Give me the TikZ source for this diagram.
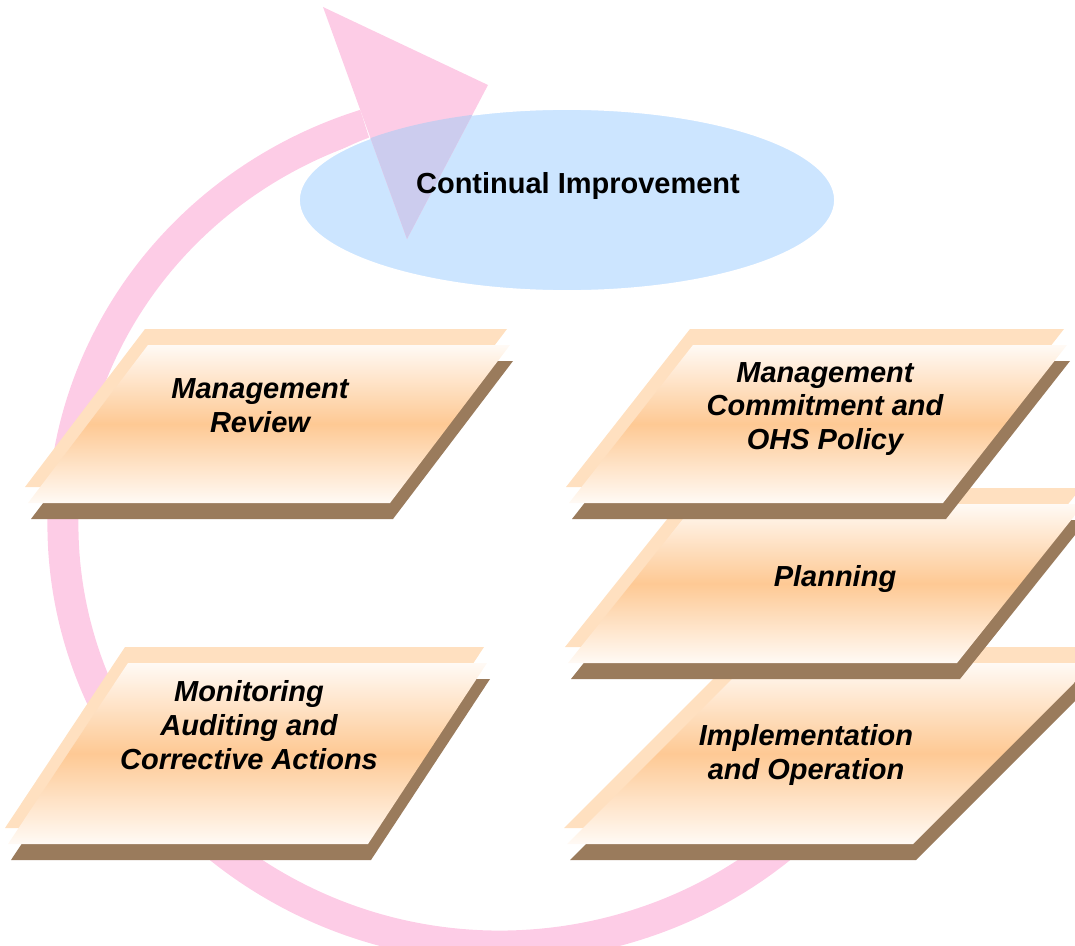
\documentclass[tikz,border=0pt]{standalone}
\usepackage{fontspec}
\setmainfont{Liberation Sans}
\definecolor{ringpink}{RGB}{253,204,230}
\definecolor{ciblue}{RGB}{204,229,255}
\definecolor{cimix}{RGB}{204,204,238}
\definecolor{slabpeach}{RGB}{255,224,192}
\definecolor{slabbrown}{RGB}{154,123,92}
\definecolor{slaborange}{RGB}{254,201,148}
\definecolor{slabwhite}{RGB}{255,250,245}

\begin{document}
\begin{tikzpicture}[x=0.02cm, y=-0.02cm,
  ring/.style={draw=ringpink, line width=0.62cm},
  backlayer/.style={fill=slabpeach, shift={(-3,-16)}},
  shadowlayer/.style={fill=slabbrown, shift={(3,16)}},
  frontlayer/.style={top color=slabwhite, bottom color=slabwhite, middle color=slaborange},
  slabtext/.style={font=\fontsize{16.5}{19.3}\selectfont\bfseries\itshape, align=center}]

\useasboundingbox (0,0) rectangle (1075,946);
\clip (0,0) rectangle (1075,946);

% improvement loop
\coordinate (loopc) at (500,525);
\draw[ring] ([shift={(30:437 and 421)}]loopc) arc[start angle=30, end angle=252, x radius=437, y radius=421];
\coordinate (headA) at (323,7);
\coordinate (headB) at (488,85);
\coordinate (headC) at (407,239);
\fill[ciblue, draw=white, line width=1pt] (567,200) ellipse [x radius=268, y radius=91];
\fill[ringpink] (headA) -- (headB) -- (headC) -- cycle;
\begin{scope}
\clip (567,200) ellipse [x radius=268, y radius=91];
\fill[cimix] (headA) -- (headB) -- (headC) -- cycle;
\end{scope}
\node[font=\fontsize{16.5}{19.3}\selectfont\bfseries] (ci) at (578,186) {Continual Improvement};

% left column
\fill[backlayer] (148,345) -- (510,345) -- (390,503) -- (28,503) -- cycle;
\fill[shadowlayer] (148,345) -- (510,345) -- (390,503) -- (28,503) -- cycle;
\shade[frontlayer] (148,345) -- (510,345) -- (390,503) -- (28,503) -- cycle;
\node[slabtext] (review) at (260,406) {Management\\Review};

\fill[backlayer] (128,663) -- (487,663) -- (368,844) -- (8,844) -- cycle;
\fill[shadowlayer] (128,663) -- (487,663) -- (368,844) -- (8,844) -- cycle;
\shade[frontlayer] (128,663) -- (487,663) -- (368,844) -- (8,844) -- cycle;
\node[slabtext] (monitor) at (249,725) {Monitoring\\Auditing and\\Corrective Actions};

% right column
\fill[backlayer] (748,663) -- (1094,663) -- (913,844) -- (567,844) -- cycle;
\fill[shadowlayer] (748,663) -- (1094,663) -- (913,844) -- (567,844) -- cycle;
\shade[frontlayer] (748,663) -- (1094,663) -- (913,844) -- (567,844) -- cycle;
\node[slabtext] (impl) at (806,755) {Implementation\\and Operation};

\fill[backlayer] (695,504) -- (1084,504) -- (957,663) -- (568,663) -- cycle;
\fill[shadowlayer] (695,504) -- (1084,504) -- (957,663) -- (568,663) -- cycle;
\shade[frontlayer] (695,504) -- (1084,504) -- (957,663) -- (568,663) -- cycle;
\node[slabtext] (plan) at (835,579) {Planning};

\fill[backlayer] (693,345) -- (1067,345) -- (943,503) -- (569,503) -- cycle;
\fill[shadowlayer] (693,345) -- (1067,345) -- (943,503) -- (569,503) -- cycle;
\shade[frontlayer] (693,345) -- (1067,345) -- (943,503) -- (569,503) -- cycle;
\node[slabtext] (commit) at (825,409) {Management\\Commitment and\\OHS Policy};
\end{tikzpicture}
\end{document}
